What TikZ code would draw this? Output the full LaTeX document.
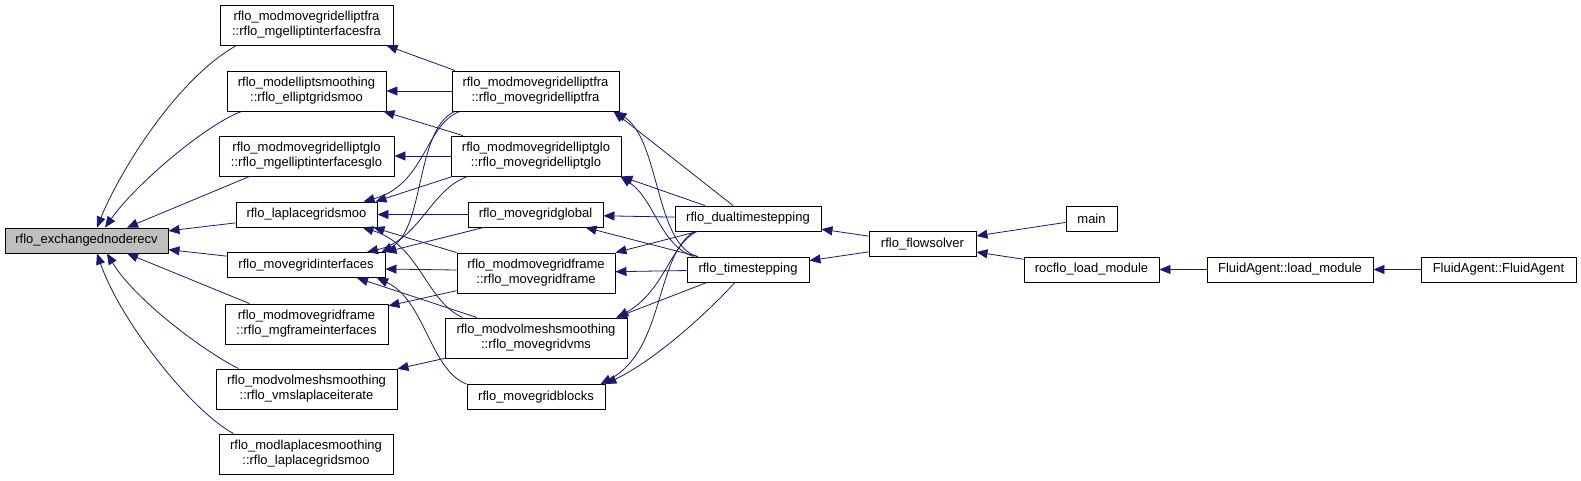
\documentclass[tikz,border=0pt]{standalone}
\usepackage{fontspec}
\setmainfont{Liberation Sans}
\usetikzlibrary{arrows.meta}
\definecolor{edgeblue}{RGB}{25,25,112}
\definecolor{rootgray}{RGB}{191,191,191}
\tikzset{
  fnbox/.style={draw=black, line width=0.9pt, fill=white, inner sep=0pt, align=center,
    font=\fontsize{13}{15}\selectfont},
  onerow/.style={minimum height=25pt},
  tworow/.style={minimum height=40pt},
  calledge/.style={draw=edgeblue, line width=0.8pt, -{Triangle[length=11pt,width=9pt]}}
}

\begin{document}
\begin{tikzpicture}[x=1pt, y=-1pt]
      \useasboundingbox (0,0) rectangle (1581,480);

      % the called routine
      \node[fnbox, onerow, fill=rootgray, minimum width=163pt] (exch) at (86.5,240.5) {rflo\_exchangednoderecv};

      % first callers
      \node[fnbox, tworow, minimum width=173pt] (mgelliptfra) at (306.5,25) {rflo\_modmovegridelliptfra\\::rflo\_mgelliptinterfacesfra};
      \node[fnbox, tworow, minimum width=159pt] (elliptgridsmoo) at (306.5,91) {rflo\_modelliptsmoothing\\::rflo\_elliptgridsmoo};
      \node[fnbox, tworow, minimum width=175pt] (mgelliptglo) at (306.5,156) {rflo\_modmovegridelliptglo\\::rflo\_mgelliptinterfacesglo};
      \node[fnbox, onerow, minimum width=141pt] (laplacegridsmoo) at (306.5,214.5) {rflo\_laplacegridsmoo};
      \node[fnbox, onerow, minimum width=158pt] (interfaces) at (306,265) {rflo\_movegridinterfaces};
      \node[fnbox, tworow, minimum width=163pt] (mgframe) at (306.5,324) {rflo\_modmovegridframe\\::rflo\_mgframeinterfaces};
      \node[fnbox, tworow, minimum width=181pt] (vmsiterate) at (306.5,389) {rflo\_modvolmeshsmoothing\\::rflo\_vmslaplaceiterate};
      \node[fnbox, tworow, minimum width=174pt] (modlaplace) at (306,454) {rflo\_modlaplacesmoothing\\::rflo\_laplacegridsmoo};

      % grid motion routines
      \node[fnbox, tworow, minimum width=167pt] (elliptfra) at (535.5,91) {rflo\_modmovegridelliptfra\\::rflo\_movegridelliptfra};
      \node[fnbox, tworow, minimum width=170pt] (elliptglo) at (536,156) {rflo\_modmovegridelliptglo\\::rflo\_movegridelliptglo};
      \node[fnbox, onerow, minimum width=135pt] (global) at (535.5,214.5) {rflo\_movegridglobal};
      \node[fnbox, tworow, minimum width=158pt] (frame) at (536,273) {rflo\_modmovegridframe\\::rflo\_movegridframe};
      \node[fnbox, tworow, minimum width=182pt] (vms) at (536,338) {rflo\_modvolmeshsmoothing\\::rflo\_movegridvms};
      \node[fnbox, onerow, minimum width=138pt] (blocks) at (536,397) {rflo\_movegridblocks};

      % time stepping and up
      \node[fnbox, onerow, minimum width=146pt] (dualts) at (748,218.5) {rflo\_dualtimestepping};
      \node[fnbox, onerow, minimum width=122pt] (ts) at (748,269.5) {rflo\_timestepping};
      \node[fnbox, onerow, minimum width=107pt] (flowsolver) at (922.5,244) {rflo\_flowsolver};
      \node[fnbox, onerow, minimum width=51pt] (mainfn) at (1091.5,218.5) {main};
      \node[fnbox, onerow, minimum width=135pt] (loadmod) at (1091.5,269.5) {rocflo\_load\_module};
      \node[fnbox, onerow, minimum width=166pt] (agentload) at (1290,269.5) {FluidAgent::load\_module};
      \node[fnbox, onerow, minimum width=155pt] (agent) at (1498.5,269.5) {FluidAgent::FluidAgent};

      % calls into rflo_exchangednoderecv
      \draw[calledge] ([xshift=17pt]mgelliptfra.south west) .. controls (175,80) and (118,175) .. ([xshift=10.5pt]exch.north);
      \draw[calledge] ([xshift=15pt]elliptgridsmoo.south west) .. controls (205,125) and (135,185) .. ([xshift=18.5pt]exch.north);
      \draw[calledge] ([xshift=31pt]mgelliptglo.south west) -- ([xshift=40.5pt]exch.north);
      \draw[calledge] (laplacegridsmoo) -- (exch);
      \draw[calledge] (interfaces) -- (exch);
      \draw[calledge] ([xshift=25pt]mgframe.north west) -- ([xshift=40.5pt]exch.south);
      \draw[calledge] ([xshift=23pt]vmsiterate.north west) .. controls (205,352) and (135,300) .. ([xshift=20.5pt]exch.south);
      \draw[calledge] ([xshift=15pt]modlaplace.north west) .. controls (190,410) and (120,320) .. ([xshift=10.5pt]exch.south);

      % grid motion routines to first callers
      \draw[calledge] ([xshift=-80.5pt]elliptfra.north) -- ([xshift=80pt]mgelliptfra.south);
      \draw[calledge] (elliptfra) -- (elliptgridsmoo);
      \draw[calledge] ([xshift=-73pt]elliptglo.north) -- ([xshift=77pt]elliptgridsmoo.south);
      \draw[calledge] (elliptglo) -- (mgelliptglo);
      \draw[calledge] ([xshift=8pt]elliptfra.south west) .. controls (425,125) and (425,185) .. ([xshift=57pt]laplacegridsmoo.north);
      \draw[calledge] ([xshift=3pt]elliptfra.south west) .. controls (415,130) and (425,230) .. ([xshift=-4pt]interfaces.north east);
      \draw[calledge] ([xshift=2pt]elliptglo.south west) -- ([xshift=-2pt]laplacegridsmoo.north east);
      \draw[calledge] ([xshift=17pt]elliptglo.south west) .. controls (430,190) and (420,240) .. ([xshift=61pt]interfaces.north);
      \draw[calledge] (global) -- (laplacegridsmoo);
      \draw[calledge] (global) -- (interfaces.north east);
      \draw[calledge] (frame.north west) -- ([xshift=-4pt]laplacegridsmoo.south east);
      \draw[calledge] ([yshift=3pt]frame.west) -- ([yshift=-4pt]interfaces.east);
      \draw[calledge] (frame) -- (mgframe);
      \draw[calledge] ([xshift=18pt]vms.north west) .. controls (425,300) and (420,245) .. ([xshift=56pt]laplacegridsmoo.south);
      \draw[calledge] ([xshift=-59pt]vms.north) -- ([xshift=51pt]interfaces.south);
      \draw[calledge] (vms) -- (vmsiterate);
      \draw[calledge] (blocks.north west) .. controls (430,370) and (425,300) .. ([xshift=71pt]interfaces.south);

      % time stepping to grid motion
      \draw[calledge] ([xshift=-15pt]dualts.north) -- ([xshift=78pt]elliptfra.south);
      \draw[calledge] ([xshift=11pt]ts.north west) .. controls (655,245) and (660,140) .. ([xshift=-4pt]elliptfra.south east);
      \draw[calledge] ([xshift=-43pt]dualts.north) -- (elliptglo.south east);
      \draw[calledge] ([xshift=7pt]ts.north west) .. controls (660,245) and (655,200) .. ([xshift=-1pt]elliptglo.south east);
      \draw[calledge] (dualts) -- (global);
      \draw[calledge] (ts) -- (global);
      \draw[calledge] (dualts) -- (frame);
      \draw[calledge] (ts) -- (frame);
      \draw[calledge] ([xshift=22pt]dualts.south west) .. controls (670,245) and (665,290) .. ([xshift=-10pt]vms.north east);
      \draw[calledge] ([xshift=-41pt]ts.south) -- ([xshift=80pt]vms.north);
      \draw[calledge] ([xshift=20pt]dualts.south west) .. controls (655,255) and (665,350) .. ([xshift=-5pt]blocks.north east);
      \draw[calledge] ([xshift=-13pt]ts.south) .. controls (705,315) and (655,360) .. (blocks.north east);

      % driver chain
      \draw[calledge] (flowsolver) -- (dualts);
      \draw[calledge] (flowsolver) -- (ts);
      \draw[calledge] (mainfn) -- (flowsolver);
      \draw[calledge] (loadmod) -- (flowsolver);
      \draw[calledge] (agentload) -- (loadmod);
      \draw[calledge] (agent) -- (agentload);

\end{tikzpicture}
\end{document}
